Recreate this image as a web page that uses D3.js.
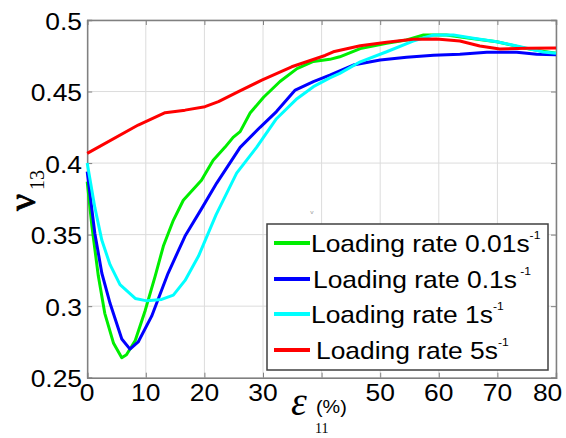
<!DOCTYPE html>
<html>
<head>
<meta charset="utf-8">
<script src="https://cdn.jsdelivr.net/npm/d3@7/dist/d3.min.js"></script>
<style>
html,body{margin:0;padding:0;background:#fff;}
svg{display:block;}
</style>
</head>
<body>
<svg id="chart" width="566" height="438"></svg>
<script>
// ---------- data ----------
const xTicks = [0, 10, 20, 30, 40, 50, 60, 70, 80];
const xTickLabels = ["0", "10", "20", "30", "", "50", "60", "70", "80"];
const yTicks = [0.25, 0.3, 0.35, 0.4, 0.45, 0.5];
const yTickLabels = ["0.25", "0.3", "0.35", "0.4", "0.45", "0.5"];

const seriesNames = ["Loading rate 0.01s", "Loading rate 0.1s", "Loading rate 1s", "Loading rate 5s"];
const seriesSup = ["-1", " -1", "-1", "-1"];
const seriesColors = ["#00ee00", "#0000ff", "#00ffff", "#ff0000"];

const strain001 = [0,0.8,1.9,3.0,4.5,5.9,6.7,8.2,9.9,11.6,13,14.7,16.4,19.5,21.5,23.5,24.9,26.1,27.8,30.1,32.9,35.8,38.6,41.4,43.1,46.6,51.1,54.5,57.4,61.3,65.3,69.9,75,80];
const nu001 = [0.387,0.356,0.321,0.295,0.274,0.264,0.266,0.276,0.297,0.321,0.342,0.360,0.374,0.388,0.402,0.411,0.418,0.422,0.435,0.446,0.457,0.466,0.471,0.4725,0.4743,0.480,0.4837,0.486,0.4895,0.4895,0.4872,0.4848,0.480,0.4767];

const strain01 = [0,1.3,2.5,3.9,5.9,7.3,8.7,11,13.8,16.7,19.5,22.1,26.1,29.5,32.3,35.5,38.6,41.4,45.4,50,54.5,59.1,63.6,68.2,73.3,76.7,80];
const nu01 = [0.394,0.351,0.323,0.302,0.277,0.270,0.275,0.293,0.323,0.349,0.368,0.386,0.411,0.425,0.436,0.451,0.457,0.4615,0.4685,0.472,0.4739,0.4753,0.476,0.4774,0.4774,0.476,0.4757];

const strain1 = [0,1.3,2.5,3.9,5.6,8.2,10.2,12.7,14.7,16.7,19,22.0,25.5,28.9,32.3,35.8,38.6,41.4,43.1,46.6,51.1,55.6,59.1,62.5,65.9,69.9,73.9,77.8,80];
const nu1 = [0.400,0.369,0.346,0.329,0.315,0.3054,0.3037,0.3047,0.3077,0.318,0.335,0.364,0.393,0.411,0.431,0.445,0.4534,0.4595,0.4627,0.4708,0.4778,0.4853,0.4895,0.4895,0.4872,0.4848,0.4813,0.4776,0.4767];

const strain5 = [0,8.7,13.3,16.7,20.1,22.4,25.8,29.8,34.9,40.6,42,46.6,51.1,55.6,59.6,63.6,67,70.4,75,80];
const nu5 = [0.4068,0.4266,0.4352,0.437,0.4394,0.4429,0.4499,0.458,0.4673,0.4752,0.4778,0.482,0.4844,0.4865,0.4867,0.4853,0.4818,0.4797,0.4802,0.4804];

const seriesX = [strain001, strain01, strain1, strain5];
const seriesY = [nu001, nu01, nu1, nu5];

// ---------- layout ----------
const svg = d3.select("#chart");
const L = 87.2, R = 556, T = 20, B = 377.7;
const x = d3.scaleLinear().domain([0, 80]).range([L, R]);
const y = d3.scaleLinear().domain([0.25, 0.5]).range([B, T]);
const SX = 1.1; // horizontal text stretch of the original

function stext(g, px, py, str, size, anchor, opts) {
  opts = opts || {};
  const t = g.append("text")
    .attr("transform", `translate(${px},${py}) scale(${SX},1)`)
    .attr("font-family", opts.family || "'Liberation Sans', Arial, sans-serif")
    .attr("font-size", size)
    .attr("text-anchor", anchor || "start")
    .attr("fill", opts.fill || "#000")
    .text(str);
  if (opts.style) t.attr("font-style", opts.style);
  return t;
}

// grid
const grid = svg.append("g").attr("stroke", "#dcdcdc").attr("stroke-width", 1);
xTicks.forEach(v => grid.append("line").attr("x1", x(v)).attr("x2", x(v)).attr("y1", T).attr("y2", B));
yTicks.forEach(v => grid.append("line").attr("x1", L).attr("x2", R).attr("y1", y(v)).attr("y2", y(v)));

// axes (inward ticks) using d3 axes
const axisColor = "#808080";
const gB = svg.append("g").attr("transform", `translate(0,${B})`)
  .call(d3.axisBottom(x).tickValues(xTicks).tickSize(-5).tickFormat(""));
const gTop = svg.append("g").attr("transform", `translate(0,${T})`)
  .call(d3.axisTop(x).tickValues(xTicks).tickSize(-5).tickFormat(""));
const gLft = svg.append("g").attr("transform", `translate(${L},0)`)
  .call(d3.axisLeft(y).tickValues(yTicks).tickSize(-5).tickFormat(""));
const gRt = svg.append("g").attr("transform", `translate(${R},0)`)
  .call(d3.axisRight(y).tickValues(yTicks).tickSize(-5).tickFormat(""));
[gB, gTop, gLft, gRt].forEach(g => {
  g.selectAll("path").attr("stroke", axisColor).attr("stroke-width", 1.5);
  g.selectAll("line").attr("stroke", axisColor).attr("stroke-width", 1);
});

// tick labels
const tl = svg.append("g");
xTicks.forEach((v, i) => {
  let px = x(v);
  if (i === xTicks.length - 1) px = Math.min(px, 566 - 14 * SX - 3);
  stext(tl, px, B + 23.5, xTickLabels[i], 24, "middle");
});
yTicks.forEach((v, i) => {
  stext(tl, 82, y(v) + 9.5, yTickLabels[i], 24, "end");
});

// lines
const line = d3.line().x(d => x(d[0])).y(d => y(d[1]));
const lines = svg.append("g").attr("fill", "none").attr("stroke-width", 3).attr("stroke-linejoin", "round");
seriesX.forEach((xs, i) => {
  const pts = xs.map((v, j) => [v, seriesY[i][j]]);
  lines.append("path").datum(pts).attr("d", line).attr("stroke", seriesColors[i]);
});

// tiny artifact mark in the original
stext(svg, 312, 214, "v", 6, "middle", {fill: "#999"});

// legend
const lg = svg.append("g");
lg.append("rect").attr("x", 267).attr("y", 224).attr("width", 281).attr("height", 146)
  .attr("fill", "#fff").attr("stroke", "#404040").attr("stroke-width", 1.5);
const rowY = [243, 279, 314, 350];
const rowDx = [0, 2, 0, 5];
seriesNames.forEach((name, i) => {
  lg.append("line").attr("x1", 274).attr("x2", 310).attr("y1", rowY[i]).attr("y2", rowY[i])
    .attr("stroke", seriesColors[i]).attr("stroke-width", 4);
  const t = stext(lg, 311 + rowDx[i], rowY[i] + 8.5, name, 24, "start");
  t.append("tspan").attr("font-size", 11).attr("dy", -13).attr("xml:space", "preserve").text(seriesSup[i]);
});

// y axis label: nu_13 rotated
const yl = svg.append("g").attr("transform", "translate(35,211) rotate(-90)");
yl.append("text").attr("x", 0).attr("y", 0)
  .attr("font-family", "'Liberation Serif', 'Times New Roman', serif")
  .attr("font-size", 38).attr("stroke", "#000").attr("stroke-width", 0.8).text("ν");
yl.append("text").attr("x", 21).attr("y", 9)
  .attr("font-family", "'Liberation Serif', 'Times New Roman', serif")
  .attr("font-size", 20).text("13");

// x axis label: epsilon_11 (%)
svg.append("text").attr("x", 291).attr("y", 415)
  .attr("font-family", "'Liberation Serif', 'Times New Roman', serif")
  .attr("font-style", "italic").attr("font-size", 40).text("ε");
stext(svg, 316, 413, "(%)", 18, "start");
svg.append("text").attr("x", 315).attr("y", 433)
  .attr("font-family", "'Liberation Serif', 'Times New Roman', serif")
  .attr("font-size", 14).text("11");
</script>
</body>
</html>
